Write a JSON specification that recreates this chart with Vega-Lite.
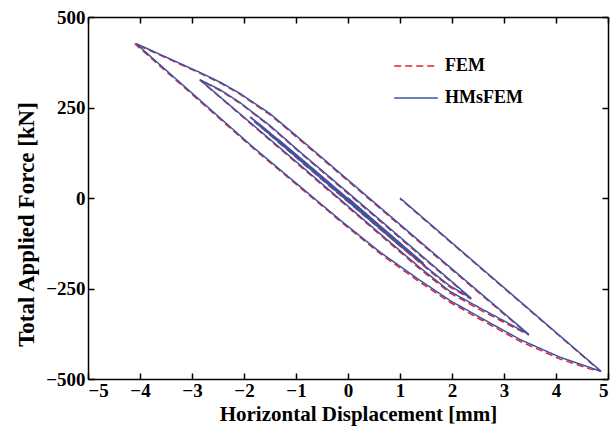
{
  "$schema": "https://vega.github.io/schema/vega-lite/v6.json",
  "width": 520,
  "height": 362,
  "autosize": {"type": "none"},
  "padding": {"left": 88, "top": 17, "right": 6, "bottom": 48},
  "background": "white",
  "config": {
    "view": {"stroke": null},
    "axis": {
      "grid": false,
      "domainColor": "black",
      "domainWidth": 1.5,
      "tickColor": "black",
      "tickWidth": 1.5,
      "tickSize": -6,
      "labelFont": "Liberation Serif",
      "labelFontSize": 19,
      "labelFontWeight": "bold",
      "labelColor": "black",
      "titleFont": "Liberation Serif",
      "titleFontSize": 21,
      "titleFontWeight": "bold",
      "titleColor": "black"
    },
    "legend": {
      "orient": "none",
      "legendX": 305,
      "legendY": 26,
      "symbolType": "stroke",
      "symbolSize": 1900,
      "symbolStrokeWidth": 1.5,
      "labelFont": "Liberation Serif",
      "labelFontSize": 18,
      "labelFontWeight": "bold",
      "labelColor": "black",
      "labelOffset": 6,
      "rowPadding": -6
    }
  },
  "data": {
    "values": [
      {"s": "FEM", "i": 1, "x": 0, "y": 0},
      {"s": "FEM", "i": 2, "x": 0.7, "y": -88},
      {"s": "FEM", "i": 3, "x": 1.45, "y": -182},
      {"s": "FEM", "i": 4, "x": 0.4, "y": -53},
      {"s": "FEM", "i": 5, "x": -0.6, "y": 70},
      {"s": "FEM", "i": 6, "x": -1.3, "y": 155},
      {"s": "FEM", "i": 7, "x": -1.6, "y": 189},
      {"s": "FEM", "i": 8, "x": -1.8, "y": 211},
      {"s": "FEM", "i": 9, "x": -1.0, "y": 112},
      {"s": "FEM", "i": 10, "x": 0, "y": -11},
      {"s": "FEM", "i": 11, "x": 1.0, "y": -133},
      {"s": "FEM", "i": 12, "x": 1.48, "y": -188},
      {"s": "FEM", "i": 13, "x": 0.5, "y": -68},
      {"s": "FEM", "i": 14, "x": -0.5, "y": 55},
      {"s": "FEM", "i": 15, "x": -1.3, "y": 154},
      {"s": "FEM", "i": 16, "x": -1.6, "y": 190},
      {"s": "FEM", "i": 17, "x": -1.88, "y": 223},
      {"s": "FEM", "i": 18, "x": -1.0, "y": 114},
      {"s": "FEM", "i": 19, "x": 0, "y": -9},
      {"s": "FEM", "i": 20, "x": 1.0, "y": -133},
      {"s": "FEM", "i": 21, "x": 1.6, "y": -205},
      {"s": "FEM", "i": 22, "x": 1.96, "y": -246},
      {"s": "FEM", "i": 23, "x": 2.37, "y": -279},
      {"s": "FEM", "i": 24, "x": 1.0, "y": -111},
      {"s": "FEM", "i": 25, "x": 0, "y": 12},
      {"s": "FEM", "i": 26, "x": -0.92, "y": 125},
      {"s": "FEM", "i": 27, "x": -1.5, "y": 198},
      {"s": "FEM", "i": 28, "x": -2.08, "y": 262},
      {"s": "FEM", "i": 29, "x": -2.46, "y": 297},
      {"s": "FEM", "i": 30, "x": -2.85, "y": 326},
      {"s": "FEM", "i": 31, "x": -0.92, "y": 88},
      {"s": "FEM", "i": 32, "x": 0.62, "y": -102},
      {"s": "FEM", "i": 33, "x": 1.38, "y": -196},
      {"s": "FEM", "i": 34, "x": 1.96, "y": -262},
      {"s": "FEM", "i": 35, "x": 2.54, "y": -309},
      {"s": "FEM", "i": 36, "x": 3.02, "y": -345},
      {"s": "FEM", "i": 37, "x": 3.48, "y": -379},
      {"s": "FEM", "i": 38, "x": 1.96, "y": -194},
      {"s": "FEM", "i": 39, "x": 0.04, "y": 42},
      {"s": "FEM", "i": 40, "x": -0.92, "y": 160},
      {"s": "FEM", "i": 41, "x": -1.5, "y": 230},
      {"s": "FEM", "i": 42, "x": -2.08, "y": 287},
      {"s": "FEM", "i": 43, "x": -2.46, "y": 318},
      {"s": "FEM", "i": 44, "x": -2.85, "y": 345},
      {"s": "FEM", "i": 45, "x": -3.25, "y": 371},
      {"s": "FEM", "i": 46, "x": -3.65, "y": 397},
      {"s": "FEM", "i": 47, "x": -4.1, "y": 426},
      {"s": "FEM", "i": 48, "x": -1.83, "y": 138},
      {"s": "FEM", "i": 49, "x": -0.15, "y": -64},
      {"s": "FEM", "i": 50, "x": 0.62, "y": -154},
      {"s": "FEM", "i": 51, "x": 1.38, "y": -232},
      {"s": "FEM", "i": 52, "x": 1.96, "y": -288},
      {"s": "FEM", "i": 53, "x": 2.54, "y": -335},
      {"s": "FEM", "i": 54, "x": 3.31, "y": -396},
      {"s": "FEM", "i": 55, "x": 4.08, "y": -445},
      {"s": "FEM", "i": 56, "x": 4.65, "y": -472},
      {"s": "FEM", "i": 57, "x": 4.85, "y": -478},
      {"s": "FEM", "i": 58, "x": 1.0, "y": -2},
      {"s": "HMsFEM", "i": 1, "x": 0, "y": 0},
      {"s": "HMsFEM", "i": 2, "x": 0.7, "y": -87},
      {"s": "HMsFEM", "i": 3, "x": 1.45, "y": -180},
      {"s": "HMsFEM", "i": 4, "x": 0.4, "y": -51},
      {"s": "HMsFEM", "i": 5, "x": -0.6, "y": 72},
      {"s": "HMsFEM", "i": 6, "x": -1.3, "y": 157},
      {"s": "HMsFEM", "i": 7, "x": -1.6, "y": 190},
      {"s": "HMsFEM", "i": 8, "x": -1.8, "y": 212},
      {"s": "HMsFEM", "i": 9, "x": -1.0, "y": 114},
      {"s": "HMsFEM", "i": 10, "x": 0, "y": -9},
      {"s": "HMsFEM", "i": 11, "x": 1.0, "y": -131},
      {"s": "HMsFEM", "i": 12, "x": 1.48, "y": -186},
      {"s": "HMsFEM", "i": 13, "x": 0.5, "y": -66},
      {"s": "HMsFEM", "i": 14, "x": -0.5, "y": 57},
      {"s": "HMsFEM", "i": 15, "x": -1.3, "y": 156},
      {"s": "HMsFEM", "i": 16, "x": -1.6, "y": 192},
      {"s": "HMsFEM", "i": 17, "x": -1.88, "y": 224},
      {"s": "HMsFEM", "i": 18, "x": -1.0, "y": 116},
      {"s": "HMsFEM", "i": 19, "x": 0, "y": -7},
      {"s": "HMsFEM", "i": 20, "x": 1.0, "y": -130},
      {"s": "HMsFEM", "i": 21, "x": 1.6, "y": -202},
      {"s": "HMsFEM", "i": 22, "x": 1.96, "y": -243},
      {"s": "HMsFEM", "i": 23, "x": 2.37, "y": -277},
      {"s": "HMsFEM", "i": 24, "x": 1.0, "y": -108},
      {"s": "HMsFEM", "i": 25, "x": 0, "y": 15},
      {"s": "HMsFEM", "i": 26, "x": -0.92, "y": 127},
      {"s": "HMsFEM", "i": 27, "x": -1.5, "y": 200},
      {"s": "HMsFEM", "i": 28, "x": -2.08, "y": 264},
      {"s": "HMsFEM", "i": 29, "x": -2.46, "y": 299},
      {"s": "HMsFEM", "i": 30, "x": -2.85, "y": 327},
      {"s": "HMsFEM", "i": 31, "x": -0.92, "y": 91},
      {"s": "HMsFEM", "i": 32, "x": 0.62, "y": -99},
      {"s": "HMsFEM", "i": 33, "x": 1.38, "y": -192},
      {"s": "HMsFEM", "i": 34, "x": 1.96, "y": -258},
      {"s": "HMsFEM", "i": 35, "x": 2.54, "y": -304},
      {"s": "HMsFEM", "i": 36, "x": 3.02, "y": -341},
      {"s": "HMsFEM", "i": 37, "x": 3.48, "y": -377},
      {"s": "HMsFEM", "i": 38, "x": 1.96, "y": -191},
      {"s": "HMsFEM", "i": 39, "x": 0.04, "y": 45},
      {"s": "HMsFEM", "i": 40, "x": -0.92, "y": 163},
      {"s": "HMsFEM", "i": 41, "x": -1.5, "y": 233},
      {"s": "HMsFEM", "i": 42, "x": -2.08, "y": 289},
      {"s": "HMsFEM", "i": 43, "x": -2.46, "y": 320},
      {"s": "HMsFEM", "i": 44, "x": -2.85, "y": 347},
      {"s": "HMsFEM", "i": 45, "x": -3.25, "y": 373},
      {"s": "HMsFEM", "i": 46, "x": -3.65, "y": 399},
      {"s": "HMsFEM", "i": 47, "x": -4.08, "y": 427},
      {"s": "HMsFEM", "i": 48, "x": -1.83, "y": 141},
      {"s": "HMsFEM", "i": 49, "x": -0.15, "y": -61},
      {"s": "HMsFEM", "i": 50, "x": 0.62, "y": -150},
      {"s": "HMsFEM", "i": 51, "x": 1.38, "y": -227},
      {"s": "HMsFEM", "i": 52, "x": 1.96, "y": -283},
      {"s": "HMsFEM", "i": 53, "x": 2.54, "y": -330},
      {"s": "HMsFEM", "i": 54, "x": 3.31, "y": -391},
      {"s": "HMsFEM", "i": 55, "x": 4.08, "y": -440},
      {"s": "HMsFEM", "i": 56, "x": 4.65, "y": -468},
      {"s": "HMsFEM", "i": 57, "x": 4.87, "y": -479},
      {"s": "HMsFEM", "i": 58, "x": 1.0, "y": 0}
    ]
  },
  "layer": [
    {
      "mark": {"type": "line", "strokeWidth": 1.5},
      "encoding": {
        "x": {
          "field": "x", "type": "quantitative",
          "scale": {"domain": [-5, 5], "nice": false, "zero": false},
          "axis": {"orient": "bottom", "values": [-5, -4, -3, -2, -1, 0, 1, 2, 3, 4, 5], "title": "Horizontal Displacement [mm]", "labelPadding": 8, "titlePadding": 3, "titleX": 270}
        },
        "y": {
          "field": "y", "type": "quantitative",
          "scale": {"domain": [-500, 500], "nice": false, "zero": false},
          "axis": {"orient": "left", "values": [-500, -250, 0, 250, 500], "title": "Total Applied Force [kN]", "titleFontSize": 23, "labelPadding": 9, "titlePadding": 7, "titleY": 207}
        },
        "color": {
          "field": "s", "type": "nominal",
          "scale": {"domain": ["FEM", "HMsFEM"], "range": ["#e8202e", "#3a55a4"]},
          "legend": {"title": null}
        },
        "strokeDash": {
          "field": "s", "type": "nominal",
          "scale": {"domain": ["FEM", "HMsFEM"], "range": [[7, 4], [1, 0]]},
          "legend": {"title": null}
        },
        "order": {"field": "i", "type": "quantitative"}
      }
    },
    {
      "mark": {"type": "point", "opacity": 0},
      "encoding": {
        "x": {
          "field": "x", "type": "quantitative",
          "axis": {"orient": "top", "values": [-5, -4, -3, -2, -1, 0, 1, 2, 3, 4, 5], "labels": false, "title": null}
        },
        "y": {
          "field": "y", "type": "quantitative",
          "axis": {"orient": "right", "values": [-500, -250, 0, 250, 500], "labels": false, "title": null}
        }
      }
    }
  ],
  "resolve": {"axis": {"x": "independent", "y": "independent"}}
}
